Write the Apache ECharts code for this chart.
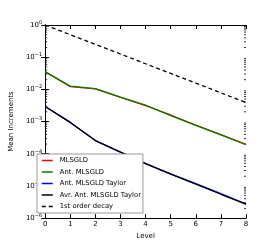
<!DOCTYPE html>
<html><head><meta charset="utf-8">
<script src="https://cdn.jsdelivr.net/npm/echarts@6/dist/echarts.min.js"></script>
<style>html,body{margin:0;padding:0;background:#fff}#c{width:274px;height:245px}</style>
</head><body><div id="c"></div>
<script>
const levels = [0, 1, 2, 3, 4, 5, 6, 7, 8];
const mlsgld = [0.0355, 0.0122, 0.0103, 0.0056, 0.0031, 0.0016, 0.00078, 0.00039, 0.000195];
const antMlsgld = [0.0351, 0.01264, 0.01051, 0.00575, 0.00322, 0.00153, 0.000764, 0.000385, 0.00019];
const antTaylor = [0.00294, 0.00094, 0.000257, 0.000112, 0.000049, 0.0000235, 0.0000118, 0.0000058, 0.0000027];
const avrAntTaylor = [0.00294, 0.00094, 0.000257, 0.000112, 0.000049, 0.0000233, 0.0000114, 0.0000055, 0.0000027];
const firstOrder = [1, 0.5, 0.25, 0.125, 0.0625, 0.03125, 0.015625, 0.0078125, 0.00390625];
const seriesNames = ['MLSGLD', 'Ant. MLSGLD', 'Ant. MLSGLD Taylor', 'Avr. Ant. MLSGLD Taylor', '1st order decay'];
const xTicks = [0, 1, 2, 3, 4, 5, 6, 7, 8];
const yDecades = [-6, -5, -4, -3, -2, -1, 0];

const minorTicks = [];
for (let d = -6; d < 0; d++) for (let m = 2; m <= 9; m++) minorTicks.push([0, m * Math.pow(10, d)]);

const font = 'DejaVu Sans';
const pair = arr => levels.map((l, i) => [l, arr[i]]);
const chart = echarts.init(document.getElementById('c'), null, {renderer: 'canvas'});
const axisLine = {show: true, lineStyle: {color: '#000', width: 1}};
chart.setOption({
  animation: false,
  backgroundColor: '#fff',
  grid: {left: 34, right: 28, top: 25, bottom: 25, containLabel: false},
  xAxis: [{
    type: 'value', min: 0, max: 8, interval: 1, position: 'bottom',
    name: 'Level', nameLocation: 'middle', nameGap: 12,
    nameTextStyle: {fontFamily: font, fontSize: 7, color: '#000'},
    axisLine, splitLine: {show: false},
    axisTick: {inside: true, length: 4, lineStyle: {color: '#000'}},
    axisLabel: {fontFamily: font, fontSize: 7, color: '#000', margin: 3}
  }, {
    type: 'value', min: 0, max: 8, interval: 1, position: 'top',
    axisLine, splitLine: {show: false},
    axisTick: {inside: true, length: 4, lineStyle: {color: '#000'}},
    axisLabel: {show: false}
  }],
  yAxis: [{
    type: 'log', logBase: 10, min: 1e-6, max: 1, interval: 1, position: 'left',
    name: 'Mean Increments', nameLocation: 'middle', nameGap: 19,
    nameTextStyle: {fontFamily: font, fontSize: 7, color: '#000'},
    axisLine, splitLine: {show: false},
    axisTick: {inside: true, length: 4, lineStyle: {color: '#000'}},
    axisLabel: {
      margin: 3, fontFamily: font, fontSize: 7, color: '#000',
      formatter: v => '10{s|' + String(Math.round(Math.log10(v))).replace('-', '\u2212') + '}',
      rich: {s: {fontFamily: font, fontSize: 5, color: '#000', verticalAlign: 'top', padding: [0, 0, 5, 0]}}
    }
  }, {
    type: 'log', logBase: 10, min: 1e-6, max: 1, interval: 1, position: 'right',
    axisLine, splitLine: {show: false},
    axisTick: {inside: true, length: 4, lineStyle: {color: '#000'}},
    axisLabel: {show: false}
  }],
  legend: {
    orient: 'vertical', left: 37, top: 154,
    data: seriesNames,
    backgroundColor: '#fff', borderColor: '#999', borderWidth: 1, borderRadius: 0,
    padding: [3, 2, 3, 4], itemWidth: 11, itemHeight: 7, itemGap: 4.5,
    itemStyle: {opacity: 0},
    lineStyle: {width: 1.5},
    textStyle: {fontFamily: font, fontSize: 6.8, color: '#000', padding: [0, 0, 0, 2]}
  },
  series: [
    {name: 'MLSGLD', type: 'line', data: pair(mlsgld), symbol: 'none', lineStyle: {color: '#ff0000', width: 1.3}, itemStyle: {color: '#ff0000'}},
    {name: 'Ant. MLSGLD', type: 'line', data: pair(antMlsgld), symbol: 'none', lineStyle: {color: '#008000', width: 1.3}, itemStyle: {color: '#008000'}},
    {name: 'Ant. MLSGLD Taylor', type: 'line', data: pair(antTaylor), symbol: 'none', lineStyle: {color: '#0000ff', width: 1.3}, itemStyle: {color: '#0000ff'}},
    {name: 'Avr. Ant. MLSGLD Taylor', type: 'line', data: pair(avrAntTaylor), symbol: 'none', lineStyle: {color: '#000', width: 1.3}, itemStyle: {color: '#000'}},
    {name: '1st order decay', type: 'line', data: pair(firstOrder), symbol: 'none', lineStyle: {color: '#000', width: 1.3, type: [4, 3]}, itemStyle: {color: '#000'}},
    {
      name: 'minor', type: 'custom', data: minorTicks, silent: true, clip: false,
      renderItem: (params, api) => {
        const p = api.coord([0, api.value(1)]);
        const q = api.coord([8, api.value(1)]);
        return {type: 'group', children: [
          {type: 'line', shape: {x1: p[0], y1: p[1], x2: p[0] + 2, y2: p[1]}, style: {stroke: '#000', lineWidth: 0.8}},
          {type: 'line', shape: {x1: q[0], y1: q[1], x2: q[0] - 2, y2: q[1]}, style: {stroke: '#000', lineWidth: 0.8}}
        ]};
      }
    }
  ]
});
</script></body></html>
